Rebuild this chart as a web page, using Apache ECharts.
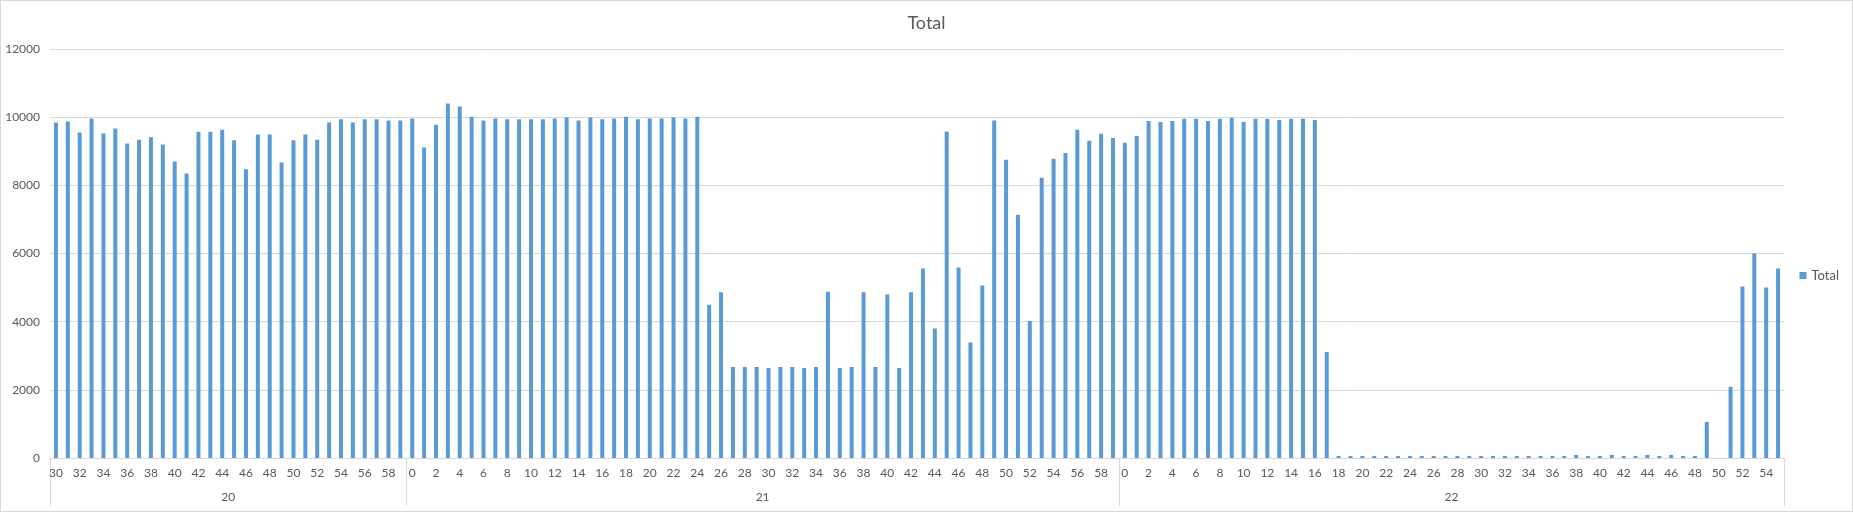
<!DOCTYPE html>
<html>
<head>
<meta charset="utf-8">
<script src="https://cdn.jsdelivr.net/npm/echarts@6/dist/echarts.min.js"></script>
<style>
html,body{margin:0;padding:0;background:#fff;}
#wrap{width:1853px;height:512px;box-sizing:border-box;border:1px solid #d9d9d9;}
#chart{width:1851px;height:510px;}
</style>
</head>
<body>
<div id="wrap"><div id="chart"></div></div>
<script>
// ---- data ----
const years = ['20', '21', '22'];
const weeks20 = [30,31,32,33,34,35,36,37,38,39,40,41,42,43,44,45,46,47,48,49,50,51,52,53,54,55,56,57,58,59];
const weeks21 = [0,1,2,3,4,5,6,7,8,9,10,11,12,13,14,15,16,17,18,19,20,21,22,23,24,25,26,27,28,29,30,31,32,33,34,35,36,37,38,39,40,41,42,43,44,45,46,47,48,49,50,51,52,53,54,55,56,57,58,59];
const weeks22 = [0,1,2,3,4,5,6,7,8,9,10,11,12,13,14,15,16,17,18,19,20,21,22,23,24,25,26,27,28,29,30,31,32,33,34,35,36,37,38,39,40,41,42,43,44,45,46,47,48,49,50,51,52,53,54,55];
const total20 = [9840,9870,9550,9960,9520,9670,9230,9340,9410,9200,8700,8350,9570,9570,9630,9320,8470,9490,9490,8670,9320,9490,9340,9840,9940,9840,9940,9940,9900,9900];
const total21 = [9960,9110,9780,10400,10310,10010,9900,9960,9940,9940,9940,9940,9960,9990,9900,9990,9940,9960,
  10010,9940,9960,9960,9990,9960,10010,
  4500,4860,2670,2670,2670,2640,2670,2670,2640,2670,4880,2640,2670,4860,2670,4800,2640,4860,5560,3800,9580,5590,3390,5060,9900,8750,7140,
  4020,8220,8780,8950,9630,9310,9510,9390];
const total22 = [9250,9450,9890,9860,9890,9950,9950,9890,9950,9980,9860,9950,9950,9920,9950,9950,9920,
  3110,
  60,60,60,60,60,60,60,60,60,60,60,60,60,60,60,60,60,60,60,60,90,60,60,90,60,60,90,60,90,60,60,
  1060,0,2090,5030,6000,5000,5560];
const yTicks = [0,2000,4000,6000,8000,10000,12000];

// ---- build ----
const groups = [
  {year: years[0], weeks: weeks20, vals: total20},
  {year: years[1], weeks: weeks21, vals: total21},
  {year: years[2], weeks: weeks22, vals: total22}
];
const cats = [], vals = [], bounds = [0], centers = [], centerLabel = {};
let n = 0;
groups.forEach(g => {
  const start = n;
  g.weeks.forEach((w, i) => { cats.push(g.year + '-' + w); vals.push(g.vals[i]); n++; });
  bounds.push(n);
  const c = (start + n) / 2;
  centers.push(c);
  centerLabel[c] = g.year;
});

const txt = '#595959';
const font = 'Lato, "Open Sans", sans-serif';
const chart = echarts.init(document.getElementById('chart'));
chart.setOption({
  animation: false,
  textStyle: {fontFamily: font},
  title: {text: 'Total', left: 'center', top: 8,
    textStyle: {fontSize: 18, fontWeight: 'normal', color: txt, fontFamily: font}},
  legend: {data: ['Total'], right: 8, top: 263, icon: 'rect', itemWidth: 7, itemHeight: 7, itemGap: 4,
    textStyle: {fontSize: 13, color: txt, fontFamily: font}},
  grid: {left: 49, right: 68, top: 48, bottom: 53, containLabel: false},
  xAxis: [
    {type: 'category', data: cats, position: 'bottom',
      axisLine: {lineStyle: {color: '#d9d9d9'}},
      axisTick: {show: false},
      axisLabel: {interval: 1, color: txt, fontSize: 12, margin: 9, fontFamily: font,
        formatter: v => v.split('-')[1]}},
    {type: 'value', min: 0, max: n, position: 'bottom',
      splitLine: {show: false}, axisLine: {show: false},
      axisTick: {show: true, customValues: bounds, length: 48, lineStyle: {color: '#d9d9d9'}},
      axisLabel: {customValues: centers, color: txt, fontSize: 12, margin: 33, fontFamily: font,
        formatter: v => centerLabel[v] || ''}}
  ],
  yAxis: {type: 'value', min: yTicks[0], max: yTicks[yTicks.length - 1], interval: yTicks[1] - yTicks[0],
    axisLine: {show: false}, axisTick: {show: false},
    axisLabel: {color: txt, fontSize: 12, margin: 10, fontFamily: font, formatter: v => String(v)},
    splitLine: {lineStyle: {color: '#d9d9d9'}}},
  series: [{name: 'Total', type: 'bar', xAxisIndex: 0, data: vals, barWidth: 4,
    itemStyle: {color: '#5b9bd5'}}]
});
</script>
</body>
</html>
